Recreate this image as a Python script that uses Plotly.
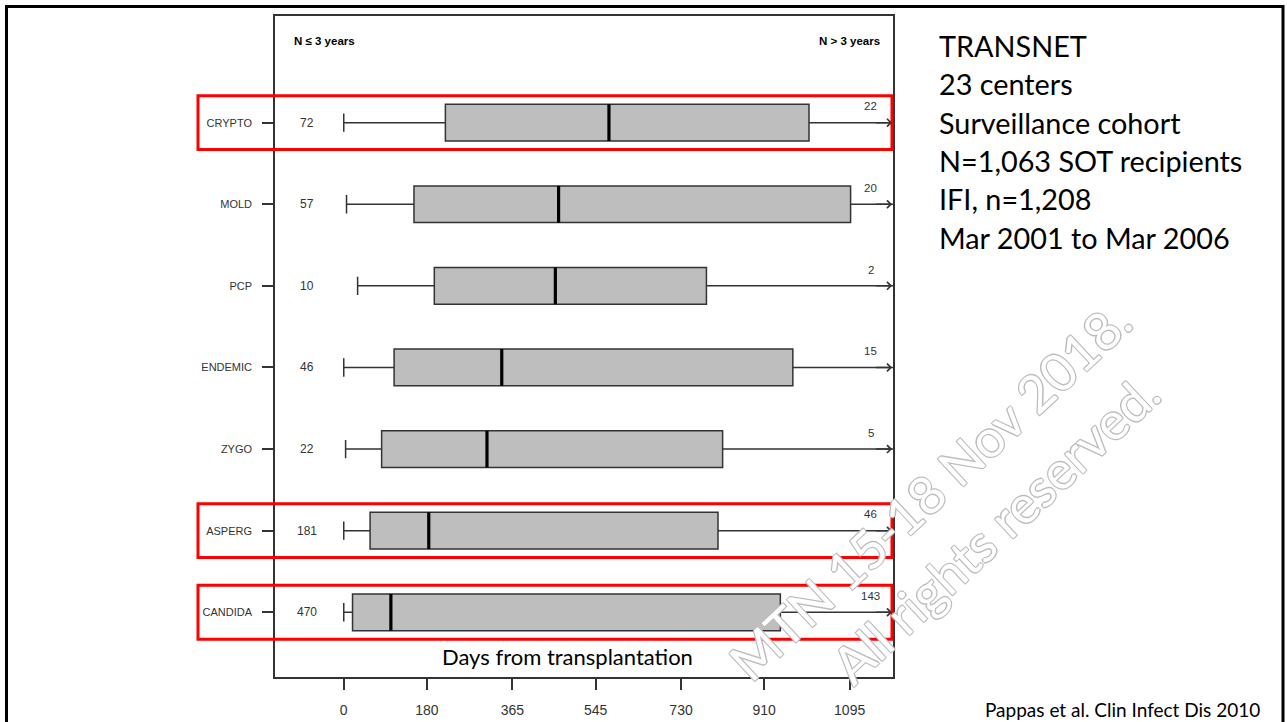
import plotly.graph_objects as go

# ---------------- data ----------------
categories = ["CANDIDA", "ASPERG", "ZYGO", "ENDEMIC", "PCP", "MOLD", "CRYPTO"]
n_le_3y = [470, 181, 22, 46, 10, 57, 72]
n_gt_3y = [143, 46, 5, 15, 2, 20, 22]
whisker_low = [0, 0, 4, 0, 30, 6, 0]
q1 = [19, 57, 82, 109, 196, 152, 220]
median = [102, 184, 310, 342, 458, 465, 574]
q3 = [945, 810, 820, 972, 785, 1097, 1007]
# upper whiskers continue beyond the 3-year window (drawn as arrows)
whisker_high = [1250, 1250, 1250, 1250, 1250, 1250, 1250]
highlighted = ["CRYPTO", "ASPERG", "CANDIDA"]

tick_vals = [0, 180, 365, 545, 730, 910, 1095]
tick_text = ["0", "180", "365", "545", "730", "910", "1095"]

info_lines = ["TRANSNET", "23 centers", "Surveillance cohort",
              "N=1,063 SOT recipients", "IFI, n=1,208", "Mar 2001 to Mar 2006"]
citation = "Pappas et al. Clin Infect Dis 2010"
x_title = "Days from transplantation"
header_left = "N ≤ 3 years"
header_right = "N > 3 years"
watermark_1 = "MTN 15-18 Nov 2018."
watermark_2 = "All rights reserved."

# ---------------- layout geometry (pixels) ----------------
W, H = 1287, 722
PL, PR, PT, PB = 275, 893, 16, 677
X_RANGE = [-148.8, 1188.8]
Y_RANGE = [-0.793, 7.307]


def pxx(x):
    return (x - PL) / (PR - PL)


def pxy(y):
    return (PB - y) / (PB - PT)


pos = list(range(len(categories)))
DARK = "#333333"
SANS = "Liberation Sans, Arial, sans-serif"
CAL = "Lato, Carlito, Calibri, sans-serif"

fig = go.Figure()

fig.add_trace(go.Box(
    y=pos, q1=q1, median=median, q3=q3,
    lowerfence=whisker_low, upperfence=whisker_high,
    orientation="h", fillcolor="#bebebe",
    line=dict(color=DARK, width=1.5), width=0.45, whiskerwidth=0.5,
    boxpoints=False, hoverinfo="skip", showlegend=False,
))

# thick median lines
mx, my = [], []
for p, m in zip(pos, median):
    mx += [m, m, None]
    my += [p - 0.225, p + 0.225, None]
fig.add_trace(go.Scatter(x=mx, y=my, mode="lines",
                         line=dict(color="black", width=3.2),
                         hoverinfo="skip", showlegend=False))

annotations = []
for p, nl, ng in zip(pos, n_le_3y, n_gt_3y):
    annotations.append(dict(x=-80, y=p, xref="x", yref="y", text=str(nl),
                            xanchor="center", yanchor="middle",
                            showarrow=False, font=dict(family=SANS, size=12, color=DARK)))
    annotations.append(dict(x=1141, y=p + 0.2, xref="x", yref="y", text=str(ng),
                            xanchor="center", yanchor="middle",
                            showarrow=False, font=dict(family=SANS, size=11.5, color=DARK)))
    annotations.append(dict(x=X_RANGE[1] - 2, y=p, xref="x", yref="y",
                            ax=X_RANGE[1] - 40, ay=p, axref="x", ayref="y",
                            text="", showarrow=True, arrowhead=4, arrowsize=1,
                            arrowwidth=1.5, arrowcolor=DARK))

annotations.append(dict(x=-111, y=7.0, xref="x", yref="y", xanchor="left", yanchor="middle",
                        text="<b>" + header_left + "</b>", showarrow=False,
                        font=dict(family=SANS, size=11.5, color="black")))
annotations.append(dict(x=1165, y=7.0, xref="x", yref="y", xanchor="right", yanchor="middle",
                        text="<b>" + header_right + "</b>", showarrow=False,
                        font=dict(family=SANS, size=11.5, color="black")))

annotations.append(dict(x=pxx(567), y=pxy(656), xref="paper", yref="paper",
                        xanchor="center", yanchor="middle",
                        text=x_title, showarrow=False,
                        font=dict(family=CAL, size=22, color="black")))

INFO_FS = 28.8
for i, line in enumerate(info_lines):
    baseline = 57 + 38.4 * i
    annotations.append(dict(x=pxx(936.5), y=pxy(baseline - 1.05 * INFO_FS),
                            xref="paper", yref="paper",
                            xanchor="left", yanchor="top", align="left",
                            text=line, showarrow=False,
                            font=dict(family=CAL, size=INFO_FS, color="black")))

annotations.append(dict(x=pxx(1262), y=pxy(709), xref="paper", yref="paper",
                        xanchor="right", yanchor="middle", text=citation, showarrow=False,
                        font=dict(family=CAL, size=19, color="black")))

WM = "#bcbcbc"
wm_font = dict(family=CAL, size=52, color="white",
               shadow=f"1px 1px 0 {WM}, -1px -1px 0 {WM}, 1px -1px 0 {WM}, -1px 1px 0 {WM}")
annotations.append(dict(x=pxx(930), y=pxy(490), xref="paper", yref="paper",
                        xanchor="center", yanchor="middle",
                        text=watermark_1, showarrow=False, textangle=-43, font=wm_font))
annotations.append(dict(x=pxx(995), y=pxy(528), xref="paper", yref="paper",
                        xanchor="center", yanchor="middle",
                        text=watermark_2, showarrow=False, textangle=-43, font=wm_font))

shapes = []
for p, c in zip(pos, categories):
    if c in highlighted:
        shapes.append(dict(type="rect", xref="paper", yref="y",
                           x0=pxx(198), x1=pxx(892), y0=p - 0.33, y1=p + 0.33,
                           line=dict(color="#ff0000", width=3), layer="above"))
# slide border
shapes.append(dict(type="rect", xref="paper", yref="paper",
                   x0=pxx(6.5), x1=pxx(1283), y0=pxy(728), y1=pxy(6.5),
                   line=dict(color="black", width=3)))

fig.update_layout(
    width=W, height=H,
    margin=dict(l=PL, r=W - PR, t=PT, b=H - PB, autoexpand=False),
    paper_bgcolor="white", plot_bgcolor="white",
    showlegend=False,
    annotations=annotations, shapes=shapes,
    xaxis=dict(range=X_RANGE, tickvals=tick_vals, ticktext=tick_text,
               ticks="outside", ticklen=11, tickwidth=1.5, tickcolor=DARK,
               showline=True, mirror=True, linecolor=DARK, linewidth=1.5,
               showgrid=False, zeroline=False, ticklabelstandoff=8, automargin=False,
               tickfont=dict(family=SANS, size=14, color=DARK)),
    yaxis=dict(range=Y_RANGE, tickvals=pos, ticktext=categories,
               ticks="outside", ticklen=11, tickwidth=1.5, tickcolor=DARK,
               showline=True, mirror=True, linecolor=DARK, linewidth=1.5,
               showgrid=False, zeroline=False, ticklabelstandoff=8, automargin=False,
               tickfont=dict(family=SANS, size=11, color=DARK)),
)

fig.write_html("out.html", config={"displayModeBar": False},
               post_script="document.body.style.margin='0';")
